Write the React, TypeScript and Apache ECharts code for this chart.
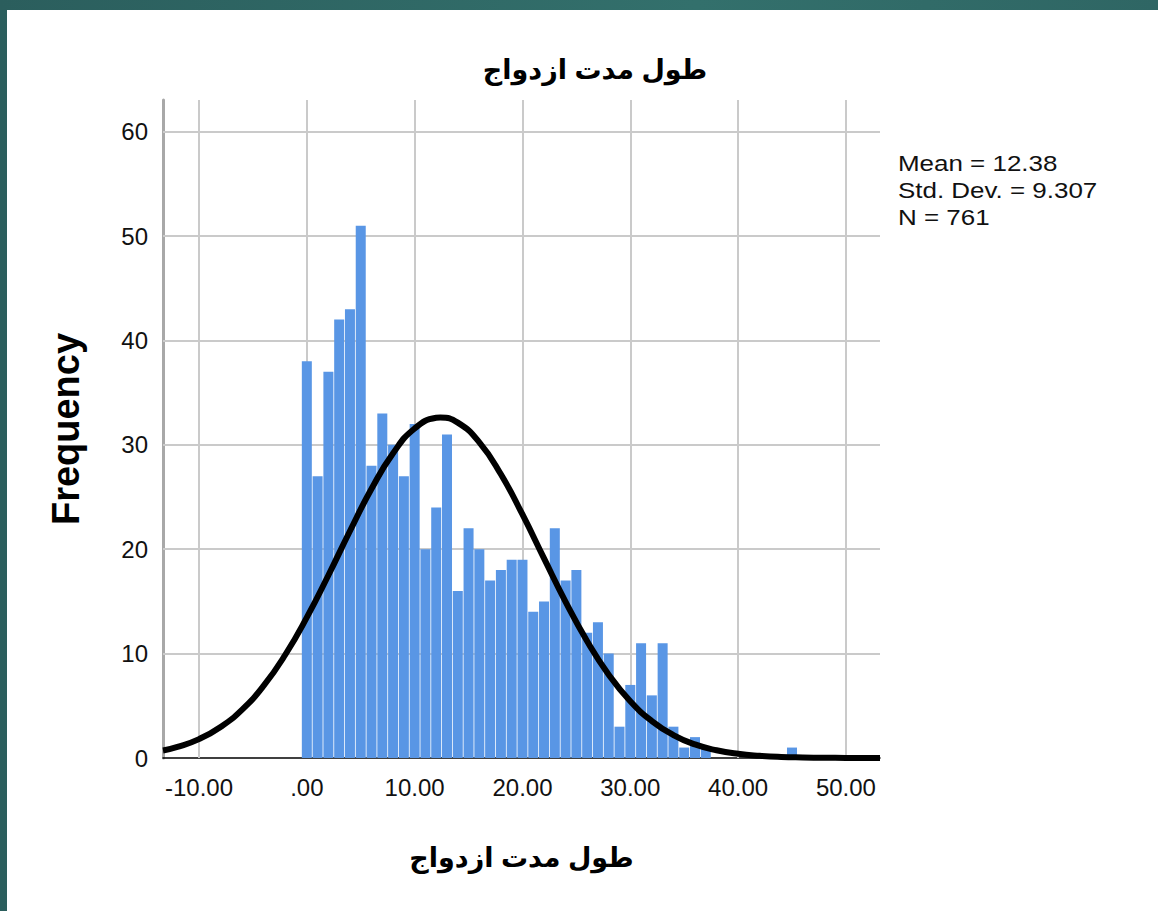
import React, { useEffect, useRef } from "react";
import * as echarts from "echarts";

// Histogram bins (centre of each 1-year bin) and their frequencies
const binCenters = [
  0, 1, 2, 3, 4, 5, 6, 7, 8, 9, 10, 11, 12, 13, 14, 15, 16, 17, 18, 19, 20,
  21, 22, 23, 24, 25, 26, 27, 28, 29, 30, 31, 32, 33, 34, 35, 36, 37, 45,
];
const frequencies = [
  38, 27, 37, 42, 43, 51, 28, 33, 30, 27, 32, 20, 24, 31, 16, 22, 20, 17, 18,
  19, 19, 14, 15, 22, 17, 18, 12, 13, 10, 3, 7, 11, 6, 11, 3, 1, 2, 1, 1,
];

// Normal curve
const curveX = [
  -13.34, -12, -10, -8, -6, -4, -2, 0, 2, 4, 6, 8, 10, 12, 12.38, 14, 16, 18,
  20, 22, 24, 26, 28, 30, 32, 34, 36, 38, 40, 42, 44, 46, 48, 50, 52, 53.16,
];
const curveY = [
  0.72, 1.06, 1.81, 2.97, 4.64, 6.93, 9.89, 13.47, 17.51, 21.75, 25.79, 29.2,
  31.57, 32.59, 32.62, 32.13, 30.24, 27.18, 23.33, 19.12, 14.96, 11.18, 7.98,
  5.43, 3.54, 2.2, 1.3, 0.74, 0.4, 0.21, 0.1, 0.05, 0.02, 0.01, 0, 0,
];

const xTickValues = [-10, 0, 10, 20, 30, 40, 50];
const yTickValues = [0, 10, 20, 30, 40, 50, 60];
const statsLines = ["Mean = 12.38", "Std. Dev. = 9.307", "N = 761"];
const chartTitle = "طول مدت ازدواج";
const xAxisTitle = "طول مدت ازدواج";
const yAxisTitle = "Frequency";

const FONT = "'Liberation Sans', Arial, 'DejaVu Sans', sans-serif";

export default function App() {
  const ref = useRef<HTMLDivElement>(null);

  useEffect(() => {
    if (!ref.current) return;
    const chart = echarts.init(ref.current, null, { renderer: "svg" });
    const xFmt = (v: number) => (v === 0 ? ".00" : v.toFixed(2));
    chart.setOption({
      animation: false,
      grid: { left: 163, top: 100, right: 278, bottom: 153, containLabel: false },
      xAxis: {
        type: "value",
        min: -13.34,
        max: 53.16,
        name: xAxisTitle,
        nameLocation: "middle",
        nameGap: 86,
        nameTextStyle: { fontFamily: FONT, fontSize: 27, fontWeight: "bold", color: "#000" },
        axisLine: { show: true, onZero: false, lineStyle: { color: "#000", width: 1.5 } },
        axisTick: { show: false },
        splitLine: { show: false },
        axisLabel: {
          customValues: xTickValues,
          formatter: xFmt,
          fontFamily: FONT,
          fontSize: 24,
          color: "#111",
          margin: 17,
        },
      },
      yAxis: {
        type: "value",
        min: 0,
        max: 63.04,
        name: yAxisTitle,
        nameLocation: "middle",
        nameGap: 78,
        nameTextStyle: { fontFamily: FONT, fontSize: 38, fontWeight: "bold", color: "#000" },
        axisLine: { show: true, onZero: false, lineStyle: { color: "#a8a8a8", width: 3 } },
        axisTick: { show: false },
        splitLine: { show: false },
        axisLabel: {
          customValues: yTickValues,
          fontFamily: FONT,
          fontSize: 24,
          color: "#111",
          margin: 15,
        },
      },
      series: [
        {
          type: "line",
          data: [],
          z: 1,
          silent: true,
          markLine: {
            silent: true,
            z: 1,
            symbol: "none",
            label: { show: false },
            lineStyle: { color: "#cacaca", width: 2, type: "solid" },
            data: [
              ...xTickValues.map((v) => ({ xAxis: v })),
              ...yTickValues.filter((v) => v > 0).map((v) => ({ yAxis: v })),
            ],
          },
        },
        {
          type: "bar",
          z: 3,
          barWidth: 10,
          itemStyle: { color: "#5996e5" },
          data: binCenters.map((c, i) => [c, frequencies[i]]),
        },
        {
          type: "line",
          z: 5,
          smooth: true,
          showSymbol: false,
          lineStyle: { color: "#000", width: 6 },
          data: curveX.map((x, i) => [x, curveY[i]]),
        },
      ],
      graphic: [
        {
          type: "text",
          x: 595,
          y: 70,
          style: {
            text: chartTitle,
            font: `bold 27px ${FONT}`,
            fill: "#000",
            textAlign: "center",
            textVerticalAlign: "middle",
          },
        },
        {
          type: "text",
          x: 898,
          y: 150,
          scaleX: 1.18,
          style: {
            text: statsLines.join("\n"),
            font: `22px ${FONT}`,
            lineHeight: 27,
            fill: "#111",
            textAlign: "left",
            textVerticalAlign: "top",
          },
        },
      ],
    });
    return () => chart.dispose();
  }, []);

  return (
    <div
      style={{
        position: "fixed",
        left: 0,
        top: 0,
        width: 1158,
        height: 911,
        background: "linear-gradient(90deg, #2b5e5d 0%, #33706c 60%, #2f6664 100%)",
        overflow: "hidden",
      }}
    >
      <div
        style={{
          position: "absolute",
          left: 7,
          top: 10,
          width: 1151,
          height: 901,
          background: "#fff",
        }}
      />
      <div ref={ref} style={{ position: "absolute", left: 0, top: 0, width: 1158, height: 911 }} />
    </div>
  );
}
